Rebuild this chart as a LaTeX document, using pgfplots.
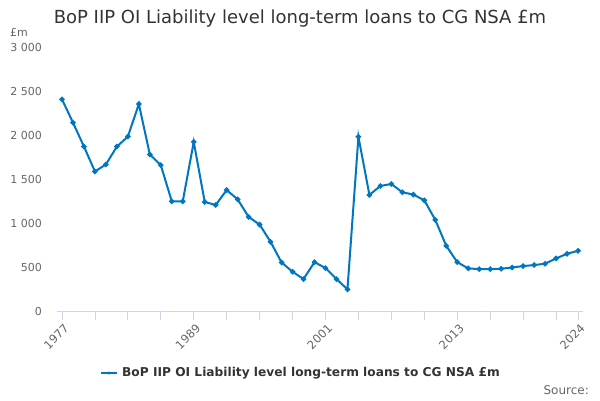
\documentclass[border=0pt]{standalone}
\usepackage{pgfplots}
\pgfplotsset{compat=1.18}
\usepackage{fontspec}
\setmainfont{DejaVu Sans}
\definecolor{series}{HTML}{0076C0}
\definecolor{gridc}{HTML}{E6E6E6}
\definecolor{axc}{HTML}{CCD6EB}
\definecolor{labc}{HTML}{666666}
\definecolor{titc}{HTML}{333333}
\begin{document}
\begin{tikzpicture}[x=1pt,y=1pt]
\path[use as bounding box] (0,0) rectangle (600,400);
\begin{axis}[
  at={(57pt,88.7pt)}, anchor=south west,
  scale only axis, width=526pt, height=264.3pt,
  xmin=1976.545, xmax=2024.455, ymin=0, ymax=3000,
  axis y line=none,
  axis x line*=bottom,
  x axis line style={draw=axc, line width=1pt, -},
  xtick={1977,1989,2001,2013,2024},
  xticklabels={1977,1989,2001,2013,2024},
  minor xtick={1980,1983,1986,1992,1995,1998,2004,2007,2010,2016,2019,2022},
  major tick length=9pt, minor tick length=9pt,
  tick style={draw=axc, line width=0.8pt},
  minor tick style={draw=axc, line width=0.8pt},
  tick align=outside,
  xtick pos=bottom,
  x tick label style={rotate=45, anchor=north east, font=\fontsize{11.5}{13}\selectfont, text=labc, inner sep=1pt, yshift=-2pt},
  ytick={0,500,1000,1500,2000,2500,3000},
  ymajorgrids, grid style={draw=gridc, line width=0.8pt},
  clip=false,
]
\addplot[series, line width=2pt, mark=*, mark size=1.6pt, mark options={fill=series, draw=series}] coordinates {
(1977,2406)(1978,2142)(1979,1870)(1980,1587)(1981,1667)(1982,1870)(1983,1983)(1984,2353)
(1985,1780)(1986,1659)(1987,1248)(1988,1248)(1989,1923)(1990,1241)(1991,1207)(1992,1376)
(1993,1271)(1994,1071)(1995,984)(1996,788)(1997,554)(1998,449)(1999,366)(2000,558)
(2001,491)(2002,366)(2003,249)(2004,1981)(2005,1321)(2006,1423)(2007,1445)(2008,1351)
(2009,1325)(2010,1260)(2011,1038)(2012,743)(2013,558)(2014,487)(2015,479)(2016,479)
(2017,483)(2018,498)(2019,513)(2020,525)(2021,540)(2022,600)(2023,653)(2024,687)
};
\foreach \v/\t in {0/0,500/500,1000/1 000,1500/1 500,2000/2 000,2500/2 500,3000/3 000}{
  \edef\tmp{\noexpand\node[anchor=east, font=\noexpand\fontsize{11}{13}\noexpand\selectfont, text=labc, inner sep=0pt] at (axis cs:1976.545,\v) [xshift=-15pt] {\t};}
  \tmp
}
\end{axis}
\node[anchor=west, font=\fontsize{11}{13}\selectfont, text=labc, inner sep=0] at (10,368) {£m};
\node[font=\fontsize{18}{22}\selectfont, text=titc, inner sep=0] at (300,381) {BoP IIP OI Liability level long-term loans to CG NSA £m};
\draw[series, line width=2pt] (101,27) -- (117,27);
\fill[series] (109,27) circle (1.6);
\node[anchor=west, font=\bfseries\fontsize{12.2}{14}\selectfont, text=titc, inner sep=0] at (122,27) {BoP IIP OI Liability level long-term loans to CG NSA £m};
\node[anchor=east, font=\fontsize{12}{14}\selectfont, text=labc, inner sep=0] at (589,10) {Source:};
\end{tikzpicture}
\end{document}
